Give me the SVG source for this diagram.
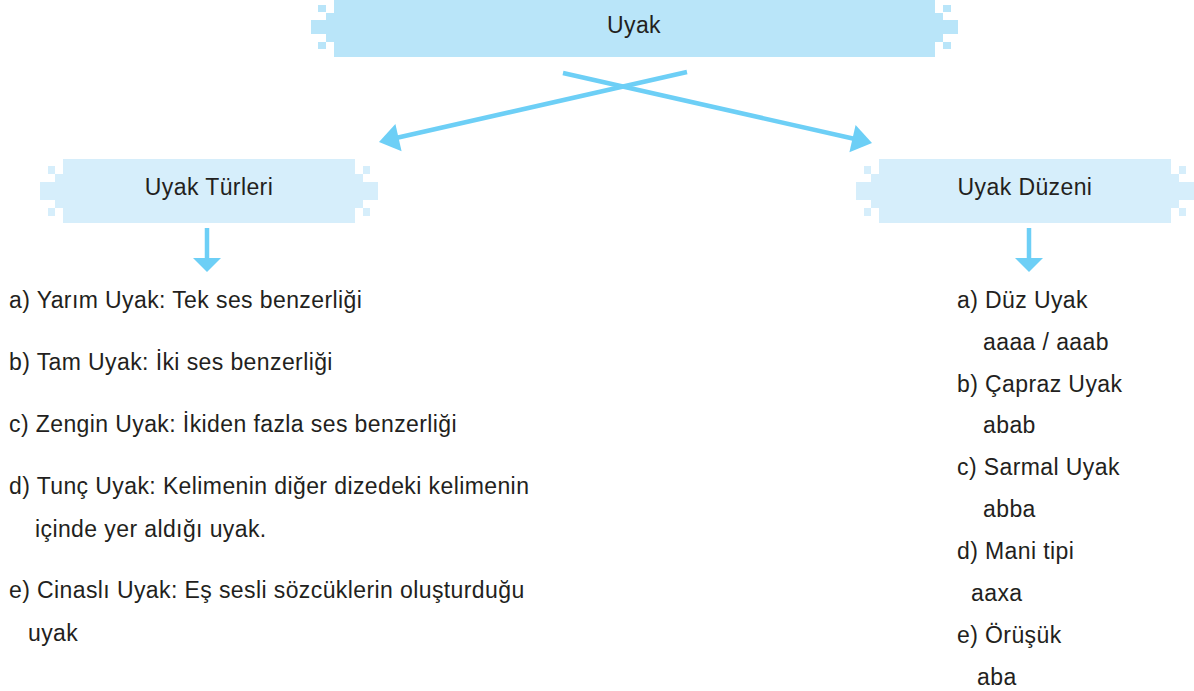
<svg xmlns="http://www.w3.org/2000/svg" width="1194" height="691" viewBox="0 0 1194 691">
<style>
.t{font-family:"Liberation Sans",Arial,sans-serif;font-size:23px;fill:#231f20;letter-spacing:0.4px}
.top{fill:#b9e5f9}
.sub{fill:#d6eefb}
.ln{stroke:#6dcff6;stroke-width:4.5;fill:none}
.hd{fill:#6dcff6}
</style>
<rect width="1194" height="691" fill="#ffffff"/>
<g id="node-uyak">
<g class="top">
<rect x="334" y="0" width="601" height="57"/>
<rect x="326" y="13" width="8" height="29"/>
<rect x="311" y="20" width="15" height="14"/>
<rect x="318" y="5" width="8" height="7"/>
<rect x="318" y="42" width="8" height="7"/>
<rect x="935" y="13" width="8" height="29"/>
<rect x="943" y="20" width="15" height="14"/>
<rect x="943" y="5" width="8" height="7"/>
<rect x="943" y="42" width="8" height="7"/>
</g>
<text class="t" x="634" y="33" text-anchor="middle">Uyak</text>
</g>
<g id="node-turleri">
<g class="sub">
<rect x="63" y="159" width="292" height="64"/>
<rect x="55" y="174" width="8" height="34"/>
<rect x="40" y="182" width="15" height="18"/>
<rect x="48" y="166" width="7" height="8"/>
<rect x="48" y="208" width="7" height="8"/>
<rect x="355" y="174" width="8" height="34"/>
<rect x="363" y="182" width="15" height="18"/>
<rect x="363" y="166" width="7" height="8"/>
<rect x="363" y="208" width="7" height="8"/>
</g>
<text class="t" x="209" y="195" text-anchor="middle">Uyak Türleri</text>
</g>
<g id="node-duzeni">
<g class="sub">
<rect x="879" y="159" width="292" height="64"/>
<rect x="871" y="174" width="8" height="34"/>
<rect x="856" y="182" width="15" height="18"/>
<rect x="864" y="166" width="7" height="8"/>
<rect x="864" y="208" width="7" height="8"/>
<rect x="1171" y="174" width="8" height="34"/>
<rect x="1179" y="182" width="15" height="18"/>
<rect x="1179" y="166" width="7" height="8"/>
<rect x="1179" y="208" width="7" height="8"/>
</g>
<text class="t" x="1025" y="195" text-anchor="middle">Uyak Düzeni</text>
</g>
<g id="connectors">
<line class="ln" x1="563" y1="73" x2="855" y2="139"/>
<polygon class="hd" points="872,143 849.4,152.3 855.6,124.9"/>
<line class="ln" x1="687" y1="72" x2="396" y2="138"/>
<polygon class="hd" points="379,142 401.6,151.2 395.4,123.9"/>
<line class="ln" x1="207" y1="228" x2="207" y2="260"/>
<polygon class="hd" points="193,258 221,258 207,272"/>
<line class="ln" x1="1029" y1="228" x2="1029" y2="260"/>
<polygon class="hd" points="1015,258 1043,258 1029,272"/>
</g>
<g id="list-turleri">
<text class="t" x="9" y="308">a) Yarım Uyak: Tek ses benzerliği</text>
<text class="t" x="9" y="370">b) Tam Uyak: İki ses benzerliği</text>
<text class="t" x="9" y="432">c) Zengin Uyak: İkiden fazla ses benzerliği</text>
<text class="t" x="9" y="494">d) Tunç Uyak: Kelimenin diğer dizedeki kelimenin</text>
<text class="t" x="35" y="537">içinde yer aldığı uyak.</text>
<text class="t" x="9" y="598">e) Cinaslı Uyak: Eş sesli sözcüklerin oluşturduğu</text>
<text class="t" x="28" y="641">uyak</text>
</g>
<g id="list-duzeni">
<text class="t" x="957" y="308">a) Düz Uyak</text>
<text class="t" x="983" y="350">aaaa / aaab</text>
<text class="t" x="957" y="392">b) Çapraz Uyak</text>
<text class="t" x="983" y="433">abab</text>
<text class="t" x="957" y="475">c) Sarmal Uyak</text>
<text class="t" x="983" y="517">abba</text>
<text class="t" x="957" y="559">d) Mani tipi</text>
<text class="t" x="971" y="601">aaxa</text>
<text class="t" x="957" y="643">e) Örüşük</text>
<text class="t" x="977" y="685">aba</text>
</g>
</svg>
